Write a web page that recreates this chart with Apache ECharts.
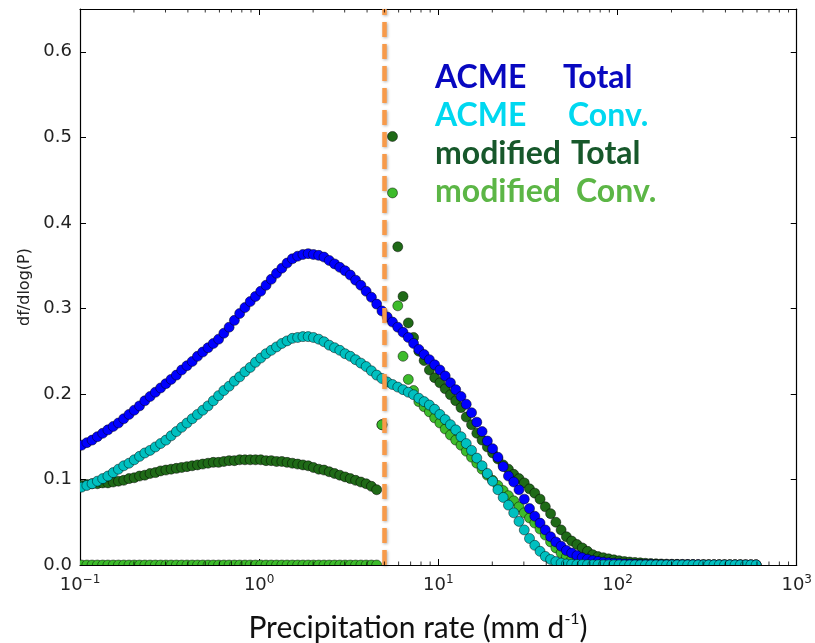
<!DOCTYPE html>
<html><head><meta charset="utf-8">
<script src="https://cdn.jsdelivr.net/npm/echarts@6/dist/echarts.min.js"></script>
<style>html,body{margin:0;padding:0;background:#fff}#c{width:815px;height:643px}</style>
</head><body><div id="c"></div>
<script>
// Precipitation-rate bin centres (mm/d), log-spaced
const precip = [
0.1020,0.1092,0.1168,0.1250,0.1338,0.1431,0.1532,0.1639,0.1754,0.1877,0.2008,0.2149,0.2300,0.2461,0.2634,0.2818,0.3016,0.3226,0.3452,0.3694,0.3953,0.4230,0.4526,0.4843,0.5183,0.5546,0.5935,0.6351,0.6796,0.7273,0.7782,0.8328,0.8912,0.9536,
1.020,1.092,1.168,1.250,1.338,1.431,1.532,1.639,1.754,1.877,2.008,2.149,2.300,2.461,2.634,2.818,3.016,3.226,3.452,3.694,3.953,4.230,4.526,4.843,5.183,5.546,5.935,6.351,6.796,7.273,7.782,8.328,8.912,9.536,
10.20,10.92,11.68,12.50,13.38,14.31,15.32,16.39,17.54,18.77,20.08,21.49,23.00,24.61,26.34,28.18,30.16,32.26,34.52,36.94,39.53,42.30,45.26,48.43,51.83,55.46,59.35,63.51,67.96,72.73,77.82,83.28,89.12,95.36,
102.0,109.2,116.8,125.0,133.8,143.1,153.2,163.9,175.4,187.7,200.8,214.9,230.0,246.1,263.4,281.8,301.6,322.6,345.2,369.4,395.3,423.0,452.6,484.3,518.3,554.6,593.5];

const acmeTotal = [
0.140,0.143,0.146,0.150,0.154,0.158,0.162,0.166,0.171,0.176,
0.181,0.186,0.192,0.197,0.202,0.207,0.212,0.217,0.222,0.228,
0.233,0.238,0.244,0.249,0.254,0.259,0.264,0.271,0.278,0.286,
0.294,0.301,0.308,0.314,0.320,0.327,0.334,0.341,0.347,0.353,
0.358,0.361,0.363,0.364,0.363,0.362,0.360,0.356,0.352,0.348,
0.344,0.339,0.333,0.327,0.320,0.313,0.305,0.297,0.290,0.284,
0.278,0.272,0.266,0.259,0.252,0.246,0.240,0.234,0.228,0.221,
0.213,0.205,0.197,0.188,0.178,0.167,0.156,0.145,0.136,0.126,
0.115,0.104,0.097,0.088,0.077,0.066,0.057,0.049,0.041,0.033,
0.027,0.022,0.017,0.014,0.011,0.0085,0.0068,0.0052,0.0042,0.0033,
0.0026,0.0021,0.0017,0.0013,0.0011,0.0009,0.0007,0.0006,0.0005,0.0004,
0.0004,0.0003,0.0003,0.0003,0.0002,0.0002,0.0002,0.0002,0.0001,0.0001,
0.0001,0.0001,0.0001,0.0001,0.0001,0.0001,0.0001,0.0001,0.0001];

const acmeConv = [
0.091,0.093,0.095,0.098,0.101,0.104,0.108,0.112,0.116,0.119,
0.123,0.127,0.131,0.134,0.138,0.142,0.146,0.151,0.156,0.161,
0.166,0.171,0.176,0.181,0.186,0.192,0.198,0.204,0.209,0.215,
0.220,0.226,0.231,0.237,0.242,0.247,0.251,0.255,0.259,0.262,
0.265,0.266,0.267,0.267,0.266,0.264,0.261,0.257,0.254,0.251,
0.247,0.244,0.240,0.236,0.232,0.227,0.222,0.218,0.214,0.211,
0.208,0.205,0.202,0.199,0.195,0.191,0.187,0.182,0.176,0.170,
0.164,0.158,0.150,0.142,0.134,0.125,0.116,0.107,0.098,0.088,
0.079,0.070,0.061,0.051,0.041,0.031,0.023,0.016,0.010,0.0065,
0.004,0.0022,0.0012,0.0008,0.0006,0.0005,0.0004,0.0003,0.0003,0.0002,
0.0002,0.0002,0.0002,0.0001,0.0001,0.0001,0.0001,0.0001,0.0001,0.0001,
0.0001,0.0001,0.0001,0.0001,0.0001,0.0001,0.0001,0.0001,0.0001,0.0001,
0.0001,0.0001,0.0001,0.0001,0.0001,0.0001,0.0001,0.0001,0.0001];

const modTotal = [
0.093,0.094,0.095,0.095,0.096,0.096,0.097,0.098,0.099,0.101,
0.102,0.104,0.105,0.107,0.108,0.110,0.111,0.112,0.113,0.114,
0.115,0.116,0.117,0.118,0.119,0.120,0.120,0.121,0.122,0.122,
0.123,0.123,0.123,0.123,0.123,0.122,0.122,0.121,0.121,0.120,
0.119,0.118,0.117,0.116,0.114,0.112,0.111,0.109,0.107,0.105,
0.103,0.101,0.099,0.097,0.095,0.092,0.088,0.164,null,0.501,
0.372,0.314,0.283,0.266,0.250,0.239,0.228,0.219,0.213,0.206,
0.199,0.192,0.184,0.173,0.164,0.154,0.146,0.138,0.131,0.124,
0.117,0.112,0.106,0.101,0.096,0.089,0.084,0.077,0.068,0.060,
0.050,0.041,0.033,0.028,0.024,0.020,0.016,0.012,0.0098,0.0085,
0.0072,0.006,0.005,0.004,0.0035,0.003,0.0025,0.002,0.0017,0.0014,
0.0012,0.001,0.0009,0.0008,0.0007,0.0006,0.0005,0.0004,0.0004,0.0003,
0.0003,0.0003,0.0002,0.0002,0.0002,0.0002,0.0001,0.0001,0.0001];

const modConv = [
0,0,0,0,0,0,0,0,0,0,
0,0,0,0,0,0,0,0,0,0,
0,0,0,0,0,0,0,0,0,0,
0,0,0,0,0,0,0,0,0,0,
0,0,0,0,0,0,0,0,0,0,
0,0,0,0,0,0,0,0.164,null,0.435,
0.303,0.244,0.217,0.204,0.191,0.185,0.179,0.172,0.166,0.159,
0.152,0.146,0.140,0.133,0.126,0.119,0.112,0.105,0.099,0.093,
0.087,0.081,0.075,0.068,0.061,0.055,0.049,0.042,0.035,0.027,
0.020,0.014,0.0095,0.0065,0.0045,0.003,0.002,0.0015,0.001,0.0008,
0.0006,0.0005,0.0004,0.0003,0.0003,0.0002,0.0002,0.0002,0.0001,0.0001,
0.0001,0.0001,0.0001,0.0001,0.0001,0.0001,0.0001,0.0001,0.0001,0.0001,
0.0001,0.0001,0.0001,0.0001,0.0001,0.0001,0.0001,0.0001,0.0001];

const xMinorTicks = [0.2,0.3,0.4,0.5,0.6,0.7,0.8,0.9,2,3,4,5,6,7,8,9,20,30,40,50,60,70,80,90,200,300,400,500,600,700,800,900];
const thresholdRate = 5;
const yMax = 0.65;
const legendRows = [
  {left:'ACME', right:'Total', color:'#0808c0'},
  {left:'ACME', right:'Conv.', color:'#00d8f0'},
  {left:'modified', right:'Total', color:'#17582b'},
  {left:'modified', right:'Conv.', color:'#5cb646'}
];
const legendRightX = [563, 568, 571, 576];

function pairs(ys){const out=[];for(let i=0;i<precip.length;i++){if(ys[i]!==null&&ys[i]!==undefined)out.push([precip[i],ys[i]]);}return out;}

function dots(name, ys, color){
  return {name:name, type:'custom', data:pairs(ys), clip:true, silent:true, encode:{x:0, y:1},
    renderItem:function(params, api){
      const p = api.coord([api.value(0), api.value(1)]);
      return {type:'circle', shape:{cx:p[0], cy:p[1], r:5},
        style:{fill:color, stroke:'rgba(0,0,0,0.6)', lineWidth:0.8}};
    }};
}
const axisCol = '#000';
const tickFont = 'DejaVu Sans';
const chart = echarts.init(document.getElementById('c'), null, {renderer:'canvas'});
const graphics = [];
legendRows.forEach((r,k)=>{
  const y = 78 + k*38;
  graphics.push({type:'text', x:435, y:y, style:{text:r.left, fill:r.color, fontFamily:'Lato', fontWeight:'bold', fontSize:32, verticalAlign:'middle'}});
  graphics.push({type:'text', x:legendRightX[k], y:y, style:{text:r.right, fill:r.color, fontFamily:'Lato', fontWeight:'bold', fontSize:32, verticalAlign:'middle'}});
});
graphics.push({type:'text', x:418, y:628, style:{text:'{a|Precipitation rate (mm d}{s|-1}{a|)}', align:'center', verticalAlign:'middle',
  rich:{a:{fontFamily:'Lato', fontSize:30, fill:'#111', lineHeight:34}, s:{fontFamily:'Lato', fontSize:16, fill:'#111', lineHeight:34, verticalAlign:'top'}}}});

chart.setOption({
  animation:false,
  backgroundColor:'#fff',
  grid:{left:80, right:17, top:9, bottom:78, containLabel:false},
  xAxis:[
    {type:'log', logBase:10, min:0.1, max:1000, position:'bottom',
     axisLine:{show:true, onZero:false, lineStyle:{color:axisCol, width:1.2}},
     axisTick:{show:true, inside:true, length:6, lineStyle:{color:axisCol}},
     splitLine:{show:false}, minorTick:{show:false},
     axisLabel:{margin:9, formatter:function(v){const e=Math.round(Math.log10(v));return '{b|10}{s|'+(e<0?'\u2212'+(-e):e)+'}';},
       rich:{b:{fontFamily:tickFont, fontSize:18, color:'#222', lineHeight:22}, s:{fontFamily:tickFont, fontSize:12, color:'#222', lineHeight:14, verticalAlign:'top'}}}},
    {type:'log', logBase:10, min:0.1, max:1000, position:'top',
     axisLine:{show:true, onZero:false, lineStyle:{color:axisCol, width:1.2}},
     axisTick:{show:true, inside:true, length:6, lineStyle:{color:axisCol}},
     splitLine:{show:false}, axisLabel:{show:false}}
  ],
  yAxis:[
    {type:'value', min:0, max:yMax, interval:0.1, position:'left',
     axisLine:{show:true, onZero:false, lineStyle:{color:axisCol, width:1.2}},
     axisTick:{show:true, inside:true, length:6, lineStyle:{color:axisCol}},
     splitLine:{show:false},
     axisLabel:{margin:8, fontFamily:tickFont, fontSize:18, color:'#222', formatter:function(v){return Math.abs(v*10-Math.round(v*10))<1e-6? v.toFixed(1):'';}},
     name:'df/dlog(P)', nameLocation:'middle', nameGap:45, nameRotate:90,
     nameTextStyle:{fontFamily:tickFont, fontSize:16, color:'#222'}},
    {type:'value', min:0, max:yMax, interval:0.1, position:'right',
     axisLine:{show:true, onZero:false, lineStyle:{color:axisCol, width:1.2}},
     axisTick:{show:true, inside:true, length:6, lineStyle:{color:axisCol}},
     splitLine:{show:false}, axisLabel:{show:false}}
  ],
  series:[
    dots('modified Total', modTotal, '#1f6a17'),
    dots('modified Conv.', modConv, '#3dbb2b'),
    dots('ACME Total', acmeTotal, '#0000ff'),
    dots('ACME Conv.', acmeConv, '#00c0c0'),
    {type:'scatter', data:xMinorTicks.map(v=>[v,0]), symbol:'rect', symbolSize:[1,3.5], symbolOffset:[0,-1.75],
     itemStyle:{color:'#000'}, clip:false, silent:true, z:5},
    {type:'scatter', data:xMinorTicks.map(v=>[v,yMax]), symbol:'rect', symbolSize:[1,3.5], symbolOffset:[0,1.75],
     itemStyle:{color:'#000'}, clip:false, silent:true, z:6,
     markLine:{silent:true, symbol:['none','none'], label:{show:false}, emphasis:{disabled:true},
       lineStyle:{color:'#f79a4a', width:4.5, type:[15,7], shadowBlur:3, shadowColor:'rgba(0,0,0,0.3)', shadowOffsetX:1, shadowOffsetY:1},
       data:[{xAxis:thresholdRate}]}}
  ],
  graphic:graphics
});
</script></body></html>
